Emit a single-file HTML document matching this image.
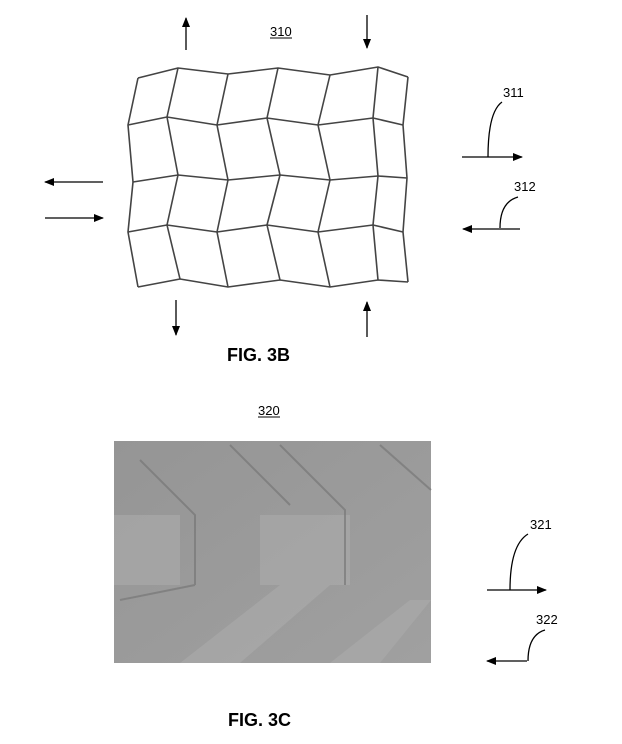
<!DOCTYPE html>
<html><head><style>
body{margin:0;background:#fff;}
svg{display:block;}
text{font-family:"Liberation Sans",sans-serif;fill:#000;}
</style></head><body>
<svg width="622" height="744" viewBox="0 0 622 744" xmlns="http://www.w3.org/2000/svg">
<defs>
<marker id="a" markerWidth="10" markerHeight="8" refX="9" refY="4" orient="auto" markerUnits="userSpaceOnUse">
<path d="M0,0 L10,4 L0,8 z" fill="#000"/></marker>
<linearGradient id="g1" x1="0" y1="0" x2="1" y2="1">
<stop offset="0" stop-color="#959595"/><stop offset="1" stop-color="#a0a0a0"/></linearGradient>
</defs>
<text x="270" y="36" font-size="13">310</text>
<line x1="270" y1="38" x2="292" y2="38" stroke="#000" stroke-width="1"/>
<g stroke="#444" stroke-width="1.6" fill="none" stroke-linejoin="round">
<polyline points="138,78 178,68 228,74 278,68 330,75 378,67 408,77"/>
<polyline points="128,125 167,117 217,125 267,118 318,125 373,118 403,125"/>
<polyline points="133,182 178,175 228,180 280,175 330,180 378,176 407,178"/>
<polyline points="128,232 167,225 217,232 267,225 318,232 373,225 403,232"/>
<polyline points="138,287 180,279 228,287 280,280 330,287 378,280 408,282"/>
<polyline points="138,78 128,125 133,182 128,232 138,287"/>
<polyline points="178,68 167,117 178,175 167,225 180,279"/>
<polyline points="228,74 217,125 228,180 217,232 228,287"/>
<polyline points="278,68 267,118 280,175 267,225 280,280"/>
<polyline points="330,75 318,125 330,180 318,232 330,287"/>
<polyline points="378,67 373,118 378,176 373,225 378,280"/>
<polyline points="408,77 403,125 407,178 403,232 408,282"/>
</g>
<g stroke="#000" stroke-width="1.3" fill="none">
<line x1="186" y1="50" x2="186" y2="18" marker-end="url(#a)"/>
<line x1="367" y1="15" x2="367" y2="48" marker-end="url(#a)"/>
<line x1="103" y1="182" x2="45" y2="182" marker-end="url(#a)"/>
<line x1="45" y1="218" x2="103" y2="218" marker-end="url(#a)"/>
<line x1="176" y1="300" x2="176" y2="335" marker-end="url(#a)"/>
<line x1="367" y1="337" x2="367" y2="302" marker-end="url(#a)"/>
<line x1="462" y1="157" x2="522" y2="157" marker-end="url(#a)"/>
<path d="M502,102 Q488,112 488,157"/>
<line x1="520" y1="229" x2="463" y2="229" marker-end="url(#a)"/>
<path d="M518,197 Q500,202 500,228"/>
<line x1="487" y1="590" x2="546" y2="590" marker-end="url(#a)"/>
<path d="M528,534 Q510,545 510,590"/>
<line x1="527" y1="661" x2="487" y2="661" marker-end="url(#a)"/>
<path d="M545,630 Q528,635 528,661"/>
</g>
<text x="503" y="97" font-size="13">311</text>
<text x="514" y="191" font-size="13">312</text>
<text x="530" y="529" font-size="13">321</text>
<text x="536" y="624" font-size="13">322</text>
<text x="227" y="361" font-size="18" font-weight="bold">FIG. 3B</text>
<text x="258" y="415" font-size="13">320</text>
<line x1="258" y1="417" x2="280" y2="417" stroke="#000"/>
<rect x="114" y="441" width="317" height="222" fill="url(#g1)"/>
<g fill="#acacac" opacity="0.6">
<polygon points="114,515 180,515 180,585 114,585"/>
<polygon points="260,515 350,515 350,585 260,585"/>
<polygon points="180,663 280,585 330,585 240,663"/>
<polygon points="330,663 410,600 431,600 380,663"/>
</g>
<g stroke="#777" stroke-width="2" fill="none" opacity="0.7">
<path d="M140,460 L195,515 L195,585"/>
<path d="M230,445 L290,505"/>
<path d="M280,445 L345,510 L345,585"/>
<path d="M380,445 L431,490"/>
<path d="M120,600 L195,585"/>
</g>
<text x="228" y="726" font-size="18" font-weight="bold">FIG. 3C</text>
</svg>
</body></html>
